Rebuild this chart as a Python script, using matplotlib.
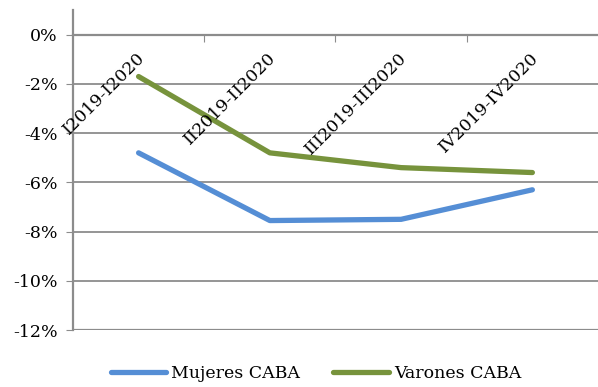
import matplotlib.pyplot as plt
from matplotlib.ticker import FuncFormatter

plt.rcParams['font.family'] = ['DejaVu Serif']

periodos = ["I2019-I2020", "II2019-II2020", "III2019-III2020", "IV2019-IV2020"]
mujeres = [-4.8, -7.55, -7.5, -6.3]
varones = [-1.7, -4.8, -5.4, -5.6]

fig = plt.figure(figsize=(5.98, 3.87), dpi=100)
ax = fig.add_axes([0.122, 0.147, 0.878, 0.827])

x = list(range(len(periodos)))
ax.plot(x, mujeres, color='#558ed5', lw=3.8, solid_capstyle='round', label="Mujeres CABA")
ax.plot(x, varones, color='#77933c', lw=3.8, solid_capstyle='round', label="Varones CABA")

ax.set_xlim(-0.5, 3.5)
ax.set_ylim(-12, 1)
yt = [0, -2, -4, -6, -8, -10, -12]
ax.set_yticks(yt)
ax.yaxis.set_major_formatter(FuncFormatter(lambda v, p: "%d%%" % v))
for v in yt[1:-1]:
    ax.axhline(v, color='#8c8c8c', lw=1.3, zorder=0)
ax.axhline(-12, color='#8c8c8c', lw=1.6, zorder=0)

for s in ['top', 'right']:
    ax.spines[s].set_visible(False)
ax.spines['left'].set_color('#8c8c8c')
ax.spines['left'].set_linewidth(1.6)
ax.spines['bottom'].set_position(('data', 0))
ax.spines['bottom'].set_color('#8c8c8c')
ax.spines['bottom'].set_linewidth(1.6)
ax.tick_params(axis='y', length=5, color='#8c8c8c', labelsize=12.5, pad=6)
ax.set_xticks([0.5, 1.5, 2.5])
ax.set_xticklabels([])
ax.tick_params(axis='x', length=5, color='#8c8c8c', direction='out')

for i, lab in enumerate(periodos):
    ax.text(i - 0.02, -0.6, lab, rotation=45, rotation_mode='anchor',
            ha='right', va='top', fontsize=12.5)

ax.legend(loc='upper center', bbox_to_anchor=(0.463, -0.06), ncol=2, frameon=False,
          fontsize=12.5, handlelength=3.2, columnspacing=1.9, handletextpad=0.3)

plt.savefig("out.png", dpi=100)
